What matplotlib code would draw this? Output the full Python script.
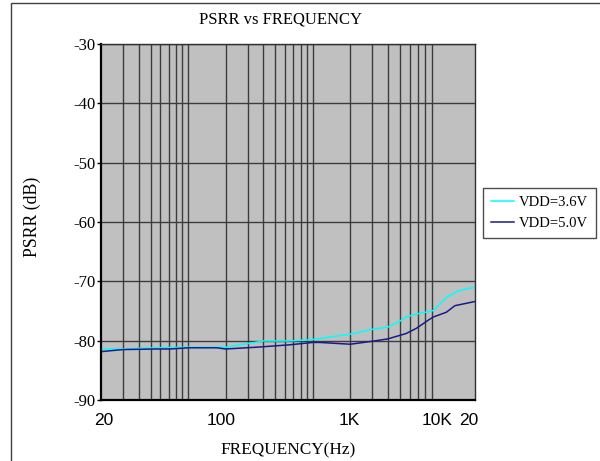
import matplotlib
matplotlib.use("Agg")
import matplotlib.pyplot as plt
import matplotlib.patches as patch
from matplotlib.transforms import Bbox

# data (frequency in Hz, PSRR in dB)
freq_36 = [20, 30, 56, 100, 200, 300, 400, 650, 1000, 2000, 3000, 4000,
           5000, 5600, 6800, 8500, 9300, 11800, 14700, 20000]
psrr_36 = [-81.4, -81.4, -81.2, -81.1, -81.1, -80.5, -80.05, -80.05, -79.8,
           -78.9, -78.1, -77.7, -76.7, -76.0, -75.5, -75.1, -74.9, -72.7,
           -71.6, -71.0]

freq_50 = [20, 30, 56, 72, 100, 170, 200, 355, 650, 1000, 1140, 2000, 3000,
           4000, 5600, 6800, 8500, 9300, 11800, 13800, 20000]
psrr_50 = [-81.85, -81.5, -81.4, -81.4, -81.2, -81.2, -81.4, -81.1, -80.7,
           -80.3, -80.3, -80.6, -80.1, -79.7, -78.8, -77.9, -76.5, -76.0,
           -75.2, -74.1, -73.4]

series = ["VDD=3.6V", "VDD=5.0V"]
yticks = [-30, -40, -50, -60, -70, -80, -90]
xtick_pos = [21, 183, 1960, 10000, 20000]
xtick_lab = ["20", "100", "1K", "10K", "20K"]
grid_freqs = [30, 40, 50, 60, 70, 80, 90, 100, 200, 300, 400, 500, 600, 700,
              800, 900, 1000, 2000, 3000, 4000, 5000, 6000, 7000, 8000, 9000,
              10000]

serif = ["Liberation Serif", "DejaVu Serif"]
sans = ["Liberation Sans", "DejaVu Sans"]

fig = plt.figure(figsize=(6, 4.61), dpi=100)
ax = fig.add_axes([101/600, 61/461, 374/600, 356/461])
ax.set_facecolor("#c0c0c0")

ax.plot(freq_36, psrr_36, color="#00ffff", lw=1.1, label=series[0])
ax.plot(freq_50, psrr_50, color="#1a1a8c", lw=1.1, label=series[1])

ax.set_xscale("log")
ax.set_xlim(20, 20000)
ax.set_ylim(-90, -30)

ax.set_yticks(yticks)
ax.set_yticklabels(["-%d" % abs(v) for v in yticks], family=serif, fontsize=12)
ax.tick_params(axis="y", length=3, width=1, pad=1)

ax.set_xticks(xtick_pos)
ax.set_xticklabels(xtick_lab, family=sans, fontsize=12.5)
ax.set_xticks(grid_freqs, minor=True)
ax.xaxis.set_minor_formatter(plt.NullFormatter())
ax.tick_params(axis="x", which="both", length=0, pad=9)

ax.grid(True, axis="x", which="minor", color="#3c3c3c", lw=1)
ax.grid(True, axis="y", which="major", color="#3c3c3c", lw=1)
ax.grid(False, axis="x", which="major")
ax.set_axisbelow(True)

for side in ["left", "bottom"]:
    ax.spines[side].set_linewidth(1.6)
    ax.spines[side].set_color("black")
for side in ["top", "right"]:
    ax.spines[side].set_linewidth(1.0)
    ax.spines[side].set_color("#303030")

fig.text(281/600, 1 - 20/461, "PSRR vs FREQUENCY", family=serif, fontsize=12,
         ha="center", va="center")
fig.text(288/600, 1 - 450/461, "FREQUENCY(Hz)", family=serif, fontsize=12.4,
         ha="center", va="center")
fig.text(32/600, 1 - 217/461, "PSRR (dB)", family=serif, fontsize=12.8,
         ha="center", va="center", rotation=90)

leg = ax.legend(loc="upper left", bbox_to_anchor=(483/600, 1 - 188/461),
                bbox_transform=fig.transFigure, prop={"family": serif, "size": 10.5},
                frameon=True, fancybox=False, shadow=False, borderpad=0.55,
                handlelength=1.6, handletextpad=0.3, labelspacing=0.55,
                borderaxespad=0)
leg.get_frame().set_edgecolor("#202020")
leg.get_frame().set_linewidth(1.0)

# outer frame, only left and top edges fall inside the picture
fig.add_artist(patch.Rectangle((11/600, -0.1), 1.0, (461 - 3)/461 + 0.1,
                               transform=fig.transFigure, fill=False,
                               edgecolor="#404040", lw=1.0))

# last label is cut off in the original
fig.canvas.draw()
last = ax.get_xticklabels()[-1]
last.set_clip_on(True)
last.set_clip_box(Bbox.from_extents(0, 0, 479, 461))

fig.savefig("out.png", dpi=100)
